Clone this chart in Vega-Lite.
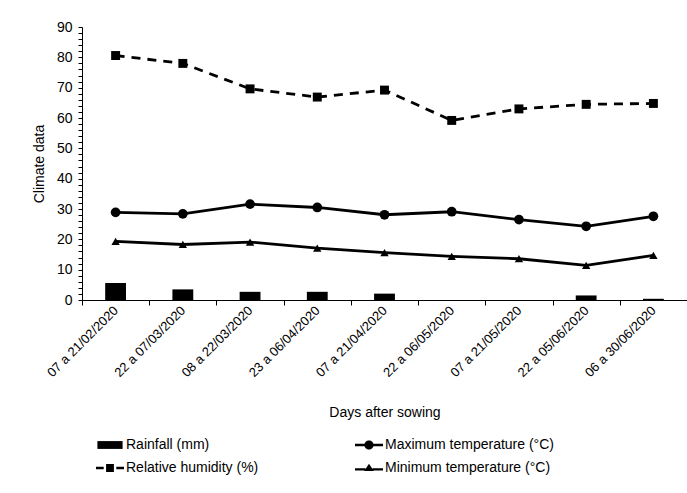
{
  "$schema": "https://vega.github.io/schema/vega-lite/v6.json",
  "autosize": {"type": "none"},
  "padding": {"left": 82, "top": 27, "right": 0, "bottom": 193},
  "width": 605,
  "height": 273,
  "background": "white",
  "config": {
    "view": {"stroke": null},
    "font": "Liberation Sans",
    "axis": {"domainColor": "black", "tickColor": "black", "labelColor": "black", "titleColor": "black", "labelFont": "Liberation Sans", "titleFont": "Liberation Sans", "titleFontWeight": "normal", "grid": false, "domainWidth": 1, "tickWidth": 1}
  },
  "data": {"values": [
    {"period": "07 a 21/02/2020", "rain": 5.6, "rh": 80.6, "tmax": 28.9, "tmin": 19.3},
    {"period": "22 a 07/03/2020", "rain": 3.5, "rh": 78.0, "tmax": 28.4, "tmin": 18.3},
    {"period": "08 a 22/03/2020", "rain": 2.7, "rh": 69.6, "tmax": 31.6, "tmin": 19.1},
    {"period": "23 a 06/04/2020", "rain": 2.7, "rh": 66.9, "tmax": 30.5, "tmin": 17.1},
    {"period": "07 a 21/04/2020", "rain": 2.1, "rh": 69.2, "tmax": 28.1, "tmin": 15.6},
    {"period": "22 a 06/05/2020", "rain": 0, "rh": 59.2, "tmax": 29.1, "tmin": 14.4},
    {"period": "07 a 21/05/2020", "rain": 0, "rh": 63.0, "tmax": 26.5, "tmin": 13.6},
    {"period": "22 a 05/06/2020", "rain": 1.5, "rh": 64.5, "tmax": 24.3, "tmin": 11.4},
    {"period": "06 a 30/06/2020", "rain": 0.4, "rh": 64.8, "tmax": 27.6, "tmin": 14.7}
  ]},
  "encoding": {
    "x": {
      "field": "period", "type": "nominal", "sort": null,
      "scale": {"paddingInner": 0, "paddingOuter": 0},
      "axis": {"title": "Days after sowing", "titleFontSize": 14, "titlePadding": 26, "labelAngle": -45, "labelAlign": "right", "labelBaseline": "middle", "labelFontSize": 13, "labelPadding": 3, "tickBand": "extent", "tickSize": 5}
    }
  },
  "layer": [
    {
      "mark": {"type": "bar", "color": "black", "width": {"band": 0.31}},
      "encoding": {
        "y": {
          "field": "rain", "type": "quantitative",
          "scale": {"domain": [0, 90], "nice": false},
          "axis": {
            "title": "Climate data", "titleFontSize": 14, "titlePadding": 10,
            "labelFontSize": 14, "labelPadding": 6,
            "domain": true, "ticks": true,
            "tickCount": 45,
            "labelExpr": "datum.value % 10 === 0 ? datum.label : ''",
            "labelOverlap": false,
            "tickSize": 4
          }
        }
      }
    },
    {
      "mark": {"type": "line", "color": "black", "strokeWidth": 2.8, "strokeDash": [9, 7]},
      "encoding": {"y": {"field": "rh", "type": "quantitative"}}
    },
    {
      "mark": {"type": "point", "shape": "square", "filled": true, "color": "black", "opacity": 1, "size": 80},
      "encoding": {"y": {"field": "rh", "type": "quantitative"}}
    },
    {
      "mark": {"type": "line", "color": "black", "strokeWidth": 2.8},
      "encoding": {"y": {"field": "tmax", "type": "quantitative"}}
    },
    {
      "mark": {"type": "point", "shape": "circle", "filled": true, "color": "black", "opacity": 1, "size": 95},
      "encoding": {"y": {"field": "tmax", "type": "quantitative"}}
    },
    {
      "mark": {"type": "line", "color": "black", "strokeWidth": 2.8},
      "encoding": {"y": {"field": "tmin", "type": "quantitative"}}
    },
    {
      "mark": {"type": "point", "shape": "triangle-up", "filled": true, "color": "black", "opacity": 1, "size": 70},
      "encoding": {"y": {"field": "tmin", "type": "quantitative"}}
    },
    {
      "data": {"values": [
        {"s": "Rainfall (mm)"},
        {"s": "Relative humidity (%)"},
        {"s": "Maximum temperature (°C)"},
        {"s": "Minimum temperature (°C)"}
      ]},
      "mark": {"type": "point", "filled": true, "opacity": 0, "color": "black"},
      "encoding": {
        "x": {"value": 0},
        "y": {"value": 0},
        "shape": {
          "field": "s", "type": "nominal",
          "scale": {
            "domain": ["Rainfall (mm)", "Relative humidity (%)", "Maximum temperature (°C)", "Minimum temperature (°C)"],
            "range": [
              "M-0.9,-0.28H0.9V0.28H-0.9Z",
              "M-1,-0.09H-0.45V0.09H-1Z M0.45,-0.09H1V0.09H0.45Z M-0.28,-0.28H0.28V0.28H-0.28Z",
              "M-1,-0.09H-0.25V0.09H-1Z M0.25,-0.09H1V0.09H0.25Z M-0.33,0A0.33,0.33 0 1,1 0.33,0A0.33,0.33 0 1,1 -0.33,0Z",
              "M-1,0.02H-0.25V0.18H-1Z M0.25,0.02H1V0.18H0.25Z M0,-0.3L0.34,0.22H-0.34Z"
            ]
          },
          "legend": {
            "title": null, "orient": "none", "legendX": 14, "legendY": 404,
            "columns": 2, "columnPadding": 96, "rowPadding": 2,
            "symbolSize": 784, "symbolFillColor": "black", "symbolStrokeColor": "black", "symbolStrokeWidth": 0, "symbolOpacity": 1,
            "labelFont": "Liberation Sans", "labelFontSize": 14, "labelColor": "black", "labelOffset": 2, "labelLimit": 300
          }
        }
      }
    }
  ]
}
